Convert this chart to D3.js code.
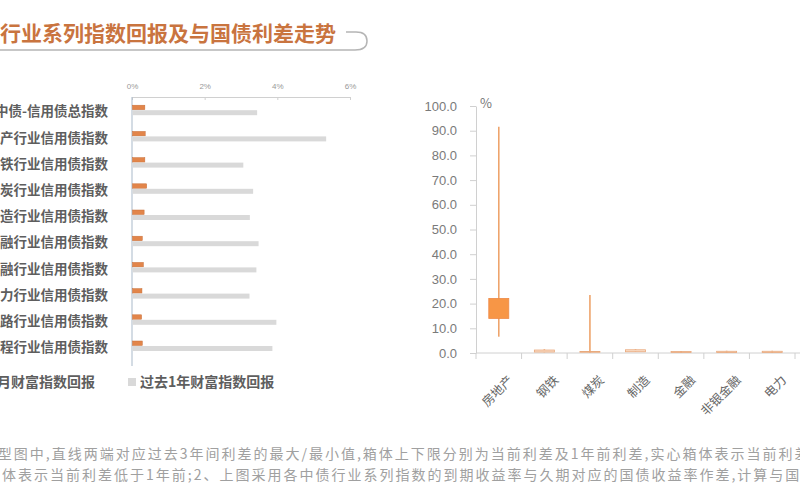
<!DOCTYPE html>
<html><head><meta charset="utf-8">
<script src="https://cdn.jsdelivr.net/npm/d3@7/dist/d3.min.js"></script>
<style>
body{margin:0;background:#fff;}
svg{display:block;font-family:"Noto Sans CJK SC","Noto Sans",sans-serif;}
</style></head>
<body>
<svg id="c" width="800" height="500"></svg>
<script>
// ---- data: left bar chart ----
const indexNames = ["中债-信用债总指数","房地产行业信用债指数","钢铁行业信用债指数","煤炭行业信用债指数","制造行业信用债指数","金融行业信用债指数","非银金融行业信用债指数","电力行业信用债指数","公路行业信用债指数","建筑工程行业信用债指数"];
const recentReturn = [0.34,0.35,0.34,0.39,0.32,0.27,0.30,0.26,0.25,0.27];
const yearReturn   = [3.43,5.33,3.05,3.32,3.23,3.47,3.41,3.22,3.96,3.85];
const returnTicks  = [0,2,4,6];
const seriesNames  = ["近1月财富指数回报","过去1年财富指数回报"];
// ---- data: right box chart ----
const industries = ["房地产","钢铁","煤炭","制造","金融","非银金融","电力"];
const spreadMax  = [91.6,1.5,23.5,1.5,0.8,0.9,0.9];
const spreadMin  = [6.6,0.3,0.1,0.4,0.1,0.1,0.1];
const spreadNow  = [22.1,0.4,0.3,0.5,0.2,0.2,0.2];
const spreadAgo  = [14.0,1.2,0.6,1.3,0.6,0.7,0.7];
const spreadTicks = [0,10,20,30,40,50,60,70,80,90,100];

const svg = d3.select("#c");
const orange = "#f79646", grey = "#d9d9d9";

// ---- title ----
svg.append("text").attr("x",336).attr("y",41).attr("text-anchor","end")
  .attr("font-size",21).attr("font-weight","bold").attr("fill","#c9743f")
  .text("中债行业系列指数回报及与国债利差走势");
svg.append("path").attr("d","M-5,50 H355 Q367,50 367,41 Q367,32 356,32 H346")
  .attr("fill","none").attr("stroke","#b5b5b5").attr("stroke-width",1.5);

// ---- left chart ----
const x = d3.scaleLinear().domain([0,6]).range([132,350]);
const y = d3.scaleBand().domain(indexNames).range([98.6,360.6]);
const sub = d3.scaleBand().domain(["recent","year"]).range([-6.5,3.5]);

const gTop = svg.append("g").attr("transform","translate(0,97)")
  .call(d3.axisTop(x).tickValues(returnTicks).tickFormat(d=>d+"%").tickSize(-3).tickPadding(8));
gTop.select(".domain").attr("stroke","#d0d0d0");
gTop.selectAll(".tick line").attr("stroke","#d0d0d0");
gTop.selectAll("text").attr("font-size",8).attr("fill","#999");

svg.append("line").attr("x1",x(0)).attr("x2",x(0)).attr("y1",97).attr("y2",366)
  .attr("stroke","#a9b9c9").attr("stroke-width",1);

const rows = svg.append("g").selectAll("g").data(indexNames).join("g")
  .attr("transform",d=>`translate(0,${y(d)+y.bandwidth()/2})`);
rows.append("text").attr("x",108).attr("y",0).attr("dy","0.35em").attr("text-anchor","end")
  .attr("font-size",13.5).attr("font-weight","bold").attr("fill","#5e5e5e").text(d=>d);
rows.append("rect").attr("x",x(0)+0.5).attr("y",sub("recent")).attr("height",sub.bandwidth()-0.5)
  .attr("width",(d,i)=>x(recentReturn[i])-x(0)).attr("fill","#e2854a").attr("stroke","#c8703a").attr("stroke-width",0.5);
rows.append("rect").attr("x",x(0)+0.5).attr("y",sub("year")).attr("height",sub.bandwidth())
  .attr("width",(d,i)=>x(yearReturn[i])-x(0)).attr("fill",grey);

// legend
const lg = svg.append("g");
lg.append("rect").attr("x",-40).attr("y",378).attr("width",8).attr("height",8).attr("fill","#e2854a");
lg.append("text").attr("x",95).attr("y",382).attr("dy","0.35em").attr("text-anchor","end")
  .attr("font-size",14).attr("font-weight","bold").attr("fill","#5e5e5e").text(seriesNames[0]);
lg.append("rect").attr("x",128).attr("y",378).attr("width",8).attr("height",8).attr("fill",grey);
lg.append("text").attr("x",140).attr("y",382).attr("dy","0.35em")
  .attr("font-size",14).attr("font-weight","bold").attr("fill","#5e5e5e").text(seriesNames[1]);

// ---- right chart ----
const xb = d3.scaleBand().domain(industries).range([476,795]);
const ys = d3.scaleLinear().domain([0,100]).range([353,106]);

const gY = svg.append("g").attr("transform","translate(476,0)")
  .call(d3.axisLeft(ys).tickValues(spreadTicks).tickFormat(d3.format(".1f")).tickSize(6).tickPadding(13).tickSizeOuter(0));
gY.select(".domain").attr("stroke","#d0d0d0");
gY.selectAll(".tick line").attr("stroke","#d0d0d0");
gY.selectAll("text").attr("font-size",13).attr("fill","#7a7a7a").attr("font-family","Liberation Sans, Arial, sans-serif");
svg.append("text").attr("x",480).attr("y",108).attr("font-size",13).attr("fill","#777").text("%");

// x axis line + boundary ticks
svg.append("line").attr("x1",476).attr("x2",800).attr("y1",ys(0)).attr("y2",ys(0)).attr("stroke","#d0d0d0");
const bounds = industries.map(d=>xb(d)).concat([xb.range()[1]]);
svg.append("g").selectAll("line").data(bounds).join("line")
  .attr("x1",d=>d).attr("x2",d=>d).attr("y1",ys(0)).attr("y2",ys(0)+6).attr("stroke","#d0d0d0");
svg.append("g").selectAll("text").data(industries).join("text")
  .attr("transform",d=>`translate(${xb(d)+xb.bandwidth()/2+15},381) rotate(-45)`)
  .attr("text-anchor","end").attr("font-size",12.5).attr("fill","#666").text(d=>d);

const boxes = svg.append("g").selectAll("g").data(industries).join("g");
boxes.append("line")
  .attr("x1",d=>xb(d)+xb.bandwidth()/2).attr("x2",d=>xb(d)+xb.bandwidth()/2)
  .attr("y1",(d,i)=>ys(spreadMax[i])).attr("y2",(d,i)=>ys(spreadMin[i]))
  .attr("stroke","#eea46c").attr("stroke-width",1.6);
boxes.append("rect")
  .attr("x",d=>xb(d)+xb.bandwidth()/2-10).attr("width",20)
  .attr("y",(d,i)=>ys(Math.max(spreadNow[i],spreadAgo[i])))
  .attr("height",(d,i)=>Math.abs(ys(spreadNow[i])-ys(spreadAgo[i])))
  .attr("fill",(d,i)=>spreadNow[i]>spreadAgo[i]?orange:"#fbe0cc")
  .attr("stroke",(d,i)=>spreadNow[i]>spreadAgo[i]?"#ee8a48":"#e8a678").attr("stroke-width",0.8);

// ---- footnote ----
const notes = [
  {x:-76, y:459, t:"注：1、箱型图中,直线两端对应过去3年间利差的最大/最小值,箱体上下限分别为当前利差及1年前利差,实心箱体表示当前利差高于1年前,"},
  {x:-46, y:480, t:"空心箱体表示当前利差低于1年前;2、上图采用各中债行业系列指数的到期收益率与久期对应的国债收益率作差,计算与国债利差。"}
];
svg.append("g").selectAll("text").data(notes).join("text")
  .attr("x",d=>d.x).attr("y",d=>d.y).attr("font-size",14).attr("letter-spacing",2)
  .attr("fill","#a0a0a0").text(d=>d.t);
</script>
</body></html>
